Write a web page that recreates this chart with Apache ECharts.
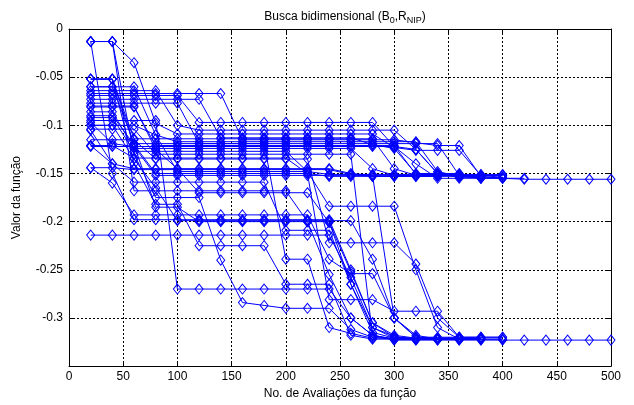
<!DOCTYPE html>
<html>
<head>
<meta charset="utf-8">
<script src="https://cdn.jsdelivr.net/npm/echarts@6/dist/echarts.min.js"></script>
<style>
  html, body { margin: 0; padding: 0; background: #fff; }
  #chart { width: 634px; height: 405px; }
</style>
</head>
<body>
<div id="chart"></div>
<script>
const evals = [20, 40, 60, 80, 100, 120, 140, 160, 180, 200, 220, 240, 260,
  280, 300, 320, 340, 360, 380, 400, 420, 440, 460, 480, 500]
const xTicks = [0, 50, 100, 150, 200, 250, 300, 350, 400, 450, 500]
const yTicks = [0, -0.05, -0.1, -0.15, -0.2, -0.25, -0.3]

// runs that settle near -0.155
const run1 = [-0.069, -0.069, -0.069, -0.069, -0.069, -0.097, -0.097, -0.097, -0.097, -0.097, -0.097, -0.097, -0.097, -0.097, -0.122, -0.125, -0.150, -0.153, -0.155, -0.155, -0.156, -0.156, -0.156, -0.156, -0.156]
const run2 = [-0.067, -0.067, -0.067, -0.067, -0.067, -0.067, -0.067, -0.115, -0.115, -0.115, -0.115, -0.115, -0.115, -0.115, -0.115, -0.118, -0.121, -0.121, -0.153, -0.155]
const run3 = [-0.064, -0.064, -0.064, -0.064, -0.100, -0.105, -0.105, -0.105, -0.105, -0.105, -0.105, -0.105, -0.105, -0.105, -0.105, -0.125, -0.150, -0.154, -0.154, -0.154]
const run4 = [-0.060, -0.060, -0.060, -0.110, -0.117, -0.117, -0.117, -0.117, -0.117, -0.117, -0.117, -0.117, -0.117, -0.117, -0.117, -0.117, -0.148, -0.153, -0.153]
const run5 = [-0.073, -0.073, -0.073, -0.073, -0.073, -0.073, -0.113, -0.113, -0.113, -0.113, -0.113, -0.113, -0.113, -0.120, -0.124, -0.150, -0.150, -0.150, -0.155, -0.155, -0.155]
const run6 = [-0.077, -0.077, -0.077, -0.077, -0.077, -0.119, -0.119, -0.119, -0.119, -0.119, -0.119, -0.119, -0.119, -0.119, -0.119, -0.119, -0.119, -0.152, -0.154]
const run7 = [-0.081, -0.081, -0.081, -0.121, -0.121, -0.121, -0.121, -0.121, -0.121, -0.121, -0.121, -0.121, -0.121, -0.121, -0.121, -0.151, -0.151, -0.151, -0.151, -0.151]
const run8 = [-0.086, -0.086, -0.124, -0.124, -0.124, -0.124, -0.124, -0.124, -0.124, -0.124, -0.124, -0.124, -0.124, -0.145, -0.152, -0.152, -0.152, -0.152, -0.152]
const run9 = [-0.092, -0.092, -0.127, -0.127, -0.127, -0.127, -0.127, -0.127, -0.127, -0.127, -0.148, -0.151, -0.151, -0.151, -0.151, -0.151, -0.151, -0.151, -0.153]
const run10 = [-0.105, -0.140, -0.145, -0.145, -0.145, -0.145, -0.145, -0.145, -0.145, -0.145, -0.145, -0.145, -0.150, -0.152, -0.152, -0.152, -0.152, -0.152, -0.152, -0.152]
const run11 = [-0.121, -0.121, -0.134, -0.134, -0.134, -0.134, -0.134, -0.134, -0.134, -0.134, -0.150, -0.153, -0.153, -0.153, -0.153, -0.153, -0.153, -0.153]
const run12 = [-0.144, -0.144, -0.146, -0.146, -0.146, -0.146, -0.146, -0.146, -0.146, -0.146, -0.146, -0.146, -0.151, -0.153, -0.153, -0.153, -0.153]
const run13 = [-0.013, -0.013, -0.035, -0.098, -0.109, -0.109, -0.109, -0.109, -0.109, -0.109, -0.109, -0.109, -0.109, -0.109, -0.123, -0.126, -0.126, -0.126, -0.152, -0.154]
const run14 = [-0.052, -0.052, -0.114, -0.114, -0.114, -0.114, -0.114, -0.114, -0.114, -0.114, -0.114, -0.114, -0.114, -0.114, -0.145, -0.152, -0.152, -0.152, -0.152, -0.152]
const run15 = [-0.097, -0.119, -0.122, -0.122, -0.122, -0.122, -0.122, -0.122, -0.122, -0.122, -0.122, -0.122, -0.122, -0.122, -0.122, -0.140, -0.155, -0.155, -0.155]

// runs that settle near -0.322
const run16 = [-0.214, -0.214, -0.214, -0.214, -0.214, -0.214, -0.214, -0.214, -0.214, -0.214, -0.214, -0.214, -0.258, -0.310, -0.319, -0.322, -0.322, -0.322, -0.322]
const run17 = [-0.095, -0.095, -0.095, -0.095, -0.270, -0.270, -0.270, -0.270, -0.270, -0.270, -0.270, -0.270, -0.300, -0.318, -0.323, -0.323, -0.323, -0.323, -0.323, -0.323, -0.323, -0.323, -0.323, -0.323, -0.323]
const run18 = [-0.013, -0.013, -0.168, -0.168, -0.168, -0.168, -0.168, -0.168, -0.168, -0.168, -0.200, -0.255, -0.300, -0.318, -0.322, -0.322, -0.322, -0.322]
const run19 = [-0.013, -0.150, -0.198, -0.198, -0.198, -0.198, -0.198, -0.198, -0.198, -0.198, -0.198, -0.198, -0.250, -0.305, -0.320, -0.322, -0.322, -0.322]
const run20 = [-0.052, -0.052, -0.120, -0.185, -0.185, -0.200, -0.200, -0.200, -0.200, -0.200, -0.200, -0.200, -0.265, -0.310, -0.321, -0.321, -0.321, -0.321]
const run21 = [-0.013, -0.013, -0.130, -0.175, -0.175, -0.175, -0.240, -0.284, -0.287, -0.290, -0.290, -0.290, -0.312, -0.320, -0.322, -0.322, -0.322, -0.322]
const run22 = [-0.080, -0.080, -0.080, -0.125, -0.145, -0.170, -0.170, -0.170, -0.170, -0.170, -0.170, -0.201, -0.252, -0.305, -0.318, -0.321, -0.321, -0.321, -0.321]
const run23 = [-0.100, -0.100, -0.135, -0.165, -0.199, -0.199, -0.199, -0.199, -0.199, -0.199, -0.199, -0.199, -0.199, -0.239, -0.300, -0.320, -0.320, -0.320]
const run24 = [-0.121, -0.140, -0.159, -0.159, -0.159, -0.159, -0.159, -0.159, -0.159, -0.209, -0.209, -0.209, -0.265, -0.315, -0.321, -0.321, -0.321, -0.321, -0.321]
const run25 = [-0.144, -0.160, -0.193, -0.193, -0.193, -0.193, -0.193, -0.193, -0.193, -0.193, -0.193, -0.239, -0.254, -0.254, -0.300, -0.318, -0.322, -0.322, -0.322, -0.322]
const run26 = [-0.115, -0.115, -0.115, -0.135, -0.135, -0.135, -0.135, -0.135, -0.135, -0.135, -0.135, -0.222, -0.222, -0.222, -0.222, -0.244, -0.300, -0.320, -0.320, -0.320]
const run27 = [-0.100, -0.100, -0.100, -0.110, -0.148, -0.148, -0.148, -0.148, -0.148, -0.148, -0.148, -0.184, -0.184, -0.184, -0.184, -0.250, -0.310, -0.322, -0.322, -0.322]
const run28 = [-0.090, -0.090, -0.120, -0.150, -0.150, -0.150, -0.150, -0.150, -0.150, -0.150, -0.150, -0.281, -0.281, -0.281, -0.293, -0.293, -0.293, -0.320, -0.320, -0.320]
const run29 = [-0.104, -0.104, -0.104, -0.130, -0.130, -0.130, -0.130, -0.130, -0.130, -0.130, -0.130, -0.130, -0.130, -0.318, -0.322, -0.322, -0.322, -0.322]
const run30 = [-0.122, -0.122, -0.122, -0.152, -0.152, -0.152, -0.152, -0.152, -0.152, -0.152, -0.152, -0.152, -0.152, -0.152, -0.300, -0.320, -0.322, -0.322, -0.322]
const run31 = [-0.052, -0.052, -0.140, -0.182, -0.182, -0.225, -0.225, -0.225, -0.225, -0.265, -0.265, -0.265, -0.318, -0.322, -0.322, -0.322, -0.322]
const run32 = [-0.060, -0.060, -0.119, -0.119, -0.119, -0.119, -0.119, -0.119, -0.119, -0.239, -0.239, -0.310, -0.316, -0.321, -0.321, -0.321, -0.321]

const runs = [run1, run2, run3, run4, run5, run6, run7, run8, run9, run10, run11,
  run12, run13, run14, run15, run16, run17, run18, run19, run20, run21, run22,
  run23, run24, run25, run26, run27, run28, run29, run30, run31, run32]

const blue = "#0000ff"
const font = "'Liberation Sans', Arial, sans-serif"

const chart = echarts.init(document.getElementById("chart"), null, { renderer: "canvas" })

function fmt(v) {
  if (v < -0.345) return ""
  return String(parseFloat(v.toFixed(2)))
}

const dotted = { type: [2, 2], color: "#000", width: 1 }

chart.setOption({
  animation: false,
  backgroundColor: "#fff",
  title: {
    text: "{n|Busca bidimensional (B}{s|0}{n|,R}{s|NIP}{n|)}",
    left: 340,
    textAlign: "center",
    top: 4,
    textStyle: {
      fontWeight: "normal",
      rich: {
        n: { fontFamily: font, fontSize: 12, fontWeight: "normal", color: "#000" },
        s: { fontFamily: font, fontSize: 9, fontWeight: "normal", color: "#000", padding: [7, 0, 0, 0] }
      }
    }
  },
  grid: { left: 69, right: 23, top: 29, bottom: 35 },
  xAxis: [
    {
      type: "value",
      min: 0,
      max: 500,
      interval: 50,
      name: "No. de Avaliações da função",
      nameLocation: "middle",
      nameGap: 20,
      nameTextStyle: { fontFamily: font, fontSize: 12, color: "#000" },
      axisLine: { onZero: false, lineStyle: { color: "#000" } },
      axisTick: { inside: true, length: 4, lineStyle: { color: "#000" } },
      axisLabel: { fontFamily: font, fontSize: 12, color: "#000", margin: 5 },
      splitLine: { show: true, lineStyle: dotted }
    },
    {
      type: "value",
      position: "top",
      min: 0,
      max: 500,
      interval: 50,
      axisLine: { onZero: false, lineStyle: { color: "#000" } },
      axisTick: { inside: true, length: 4, lineStyle: { color: "#000" } },
      axisLabel: { show: false },
      splitLine: { show: false }
    }
  ],
  yAxis: [
    {
      type: "value",
      min: -0.35,
      max: 0,
      interval: 0.05,
      name: "Valor da função",
      nameLocation: "middle",
      nameGap: 46,
      nameTextStyle: { fontFamily: font, fontSize: 12, color: "#000" },
      axisLine: { show: true, onZero: false, lineStyle: { color: "#000" } },
      axisTick: { show: true, inside: true, length: 4, lineStyle: { color: "#000" } },
      axisLabel: { fontFamily: font, fontSize: 12, color: "#000", margin: 6, formatter: fmt },
      splitLine: { show: true, lineStyle: dotted }
    },
    {
      type: "value",
      position: "right",
      min: -0.35,
      max: 0,
      interval: 0.05,
      axisLine: { show: true, onZero: false, lineStyle: { color: "#000" } },
      axisTick: { show: true, inside: true, length: 4, lineStyle: { color: "#000" } },
      axisLabel: { show: false },
      splitLine: { show: false }
    }
  ],
  series: runs.map((run, k) => ({
    name: "run" + (k + 1),
    type: "line",
    xAxisIndex: 0,
    yAxisIndex: 0,
    symbol: "diamond",
    symbolSize: [8, 10],
    showAllSymbol: true,
    silent: true,
    lineStyle: { color: blue, width: 1 },
    itemStyle: { color: "rgba(0,0,0,0)", borderColor: blue, borderWidth: 1 },
    data: run.map((v, i) => [evals[i], v])
  }))
})
</script>
</body>
</html>
